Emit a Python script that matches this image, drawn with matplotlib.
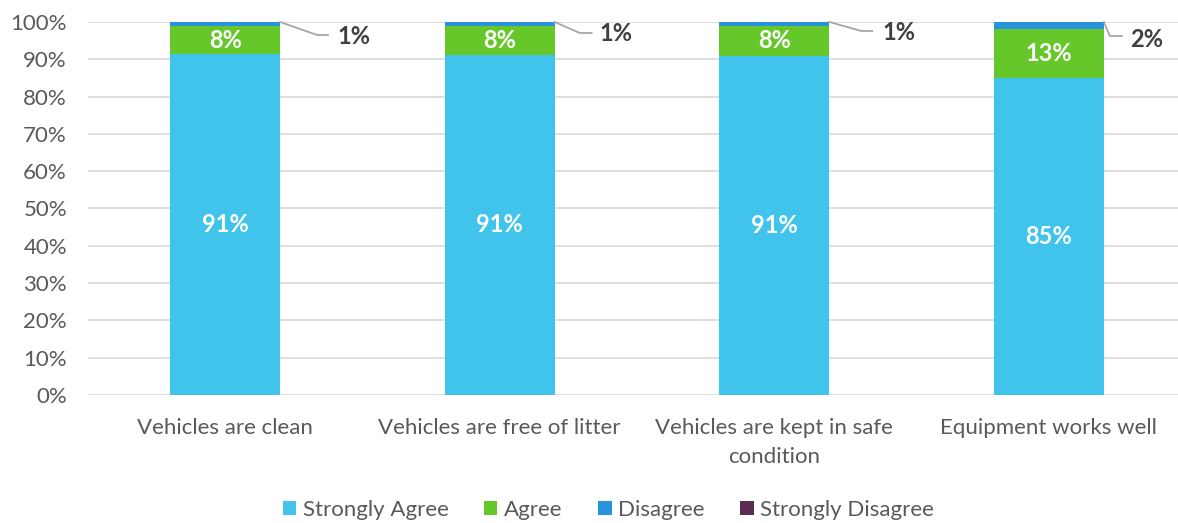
import matplotlib.pyplot as plt
import numpy as np
from matplotlib.ticker import PercentFormatter

plt.rcParams['font.family'] = ['Lato', 'DejaVu Sans']

categories = ['Vehicles are clean', 'Vehicles are free of litter',
              'Vehicles are kept in safe\ncondition', 'Equipment works well']
strongly_agree = [91.3, 91.2, 91.0, 85.1]
agree = [7.6, 7.8, 7.9, 12.9]
disagree = [1.1, 1.0, 1.1, 2.0]
strongly_disagree = [0.0, 0.0, 0.0, 0.0]

series = ['Strongly Agree', 'Agree', 'Disagree', 'Strongly Disagree']
colors = ['#40c4ec', '#66c72a', '#2892dc', '#5c2d52']

# leader line placement for the Disagree labels (pixels right / down from bar corner)
knee = [(37, 13), (25, 11), (32, 9), (6, 14)]
line_end = [(48, 13), (37, 11), (43, 9), (18, 14)]
text_pos = [(57, 15), (45, 12), (53, 11), (26, 18)]

fig, ax = plt.subplots(figsize=(11.78, 5.23), dpi=100)
fig.subplots_adjust(left=0.0745, right=1.007, top=0.958, bottom=0.245)

x = np.arange(len(categories))
w = 0.4
bottom = np.zeros(len(categories))
for vals, name, col in zip([strongly_agree, agree, disagree, strongly_disagree], series, colors):
    ax.bar(x, vals, w, bottom=bottom, color=col, label=name, zorder=3)
    bottom += np.array(vals)

ax.set_ylim(0, 100)
ax.set_xlim(-0.5, len(categories) - 0.5)

to_px = ax.transData
to_data = ax.transData.inverted()

for i in range(len(categories)):
    ax.text(x[i], strongly_agree[i] / 2, f'{strongly_agree[i]:.0f}%', ha='center', va='center',
            color='white', fontsize=17, fontweight='bold', zorder=4)
    ax.text(x[i], strongly_agree[i] + agree[i] / 2, f'{agree[i]:.0f}%', ha='center', va='center',
            color='white', fontsize=17, fontweight='bold', zorder=4)
    top = strongly_agree[i] + agree[i] + disagree[i]
    px, py = to_px.transform((x[i] + w / 2, top))
    pts = [(px, py), (px + knee[i][0], py - knee[i][1]), (px + line_end[i][0], py - line_end[i][1])]
    pts = to_data.transform(pts)
    ax.plot(pts[:, 0], pts[:, 1], color='#a6a6a6', lw=1.3, zorder=4, clip_on=False)
    tx, ty = to_data.transform((px + text_pos[i][0], py - text_pos[i][1]))
    ax.text(tx, ty, f'{disagree[i]:.0f}%', ha='left', va='center',
            color='#404040', fontsize=17, fontweight='bold')

ax.set_yticks(np.arange(0, 101, 10))
ax.yaxis.set_major_formatter(PercentFormatter(decimals=0))
ax.set_xticks(x)
ax.set_xticklabels(categories, linespacing=1.55)
ax.grid(axis='y', color='#d9d9d9', lw=1.2, zorder=0)
for s in ax.spines.values():
    s.set_visible(False)
ax.tick_params(length=0, labelsize=16, labelcolor='#595959')
ax.tick_params(axis='x', pad=16.5)
ax.tick_params(axis='y', pad=15)

ax.legend(loc='center', bbox_to_anchor=(0.474, -0.308), ncol=4, frameon=False,
          fontsize=16, labelcolor='#595959', handlelength=0.6, handleheight=0.6,
          handletextpad=0.3, columnspacing=1.6)

fig.savefig('out.png', dpi=100)
